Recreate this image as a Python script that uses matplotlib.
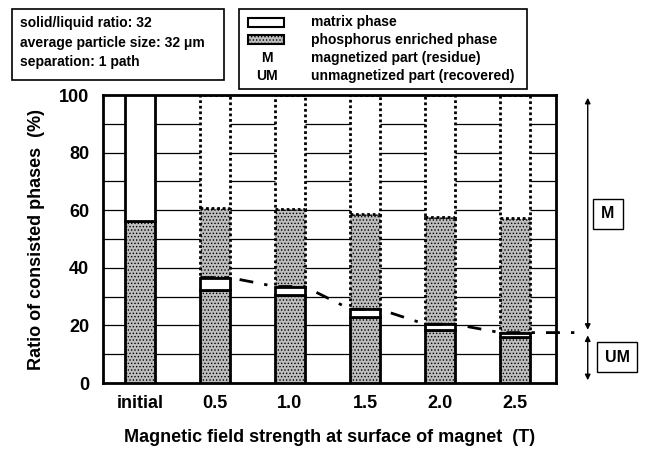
import matplotlib
matplotlib.use("Agg")
import matplotlib.pyplot as plt
from matplotlib.patches import Rectangle

plt.rcParams['font.family'] = ['Liberation Sans', 'DejaVu Sans']
plt.rcParams['font.weight'] = 'bold'
plt.rcParams['axes.labelweight'] = 'bold'
plt.rcParams['hatch.color'] = '#8a8a8a'
plt.rcParams['hatch.linewidth'] = 0.6

# data
labels = ["initial", "0.5", "1.0", "1.5", "2.0", "2.5"]
initial_phos = 56.4
um_phos = [32.3, 30.6, 23.0, 18.4, 15.9]      # phosphorus phase in UM part
um_total = [36.6, 33.5, 25.6, 20.4, 17.5]     # top of UM part (phos + matrix)
m_phos_top = [60.6, 60.4, 58.6, 57.8, 57.3]   # top of phosphorus phase in M part

gray = '#bdbdbd'
w = 0.39

fig = plt.figure(figsize=(6.47, 4.5), dpi=100)
ax = fig.add_axes([103/647, 1-383/450, 453/647, 288/450])
ax.set_xlim(-0.493, 5.547)
ax.set_ylim(0, 100)

for yv in range(10, 100, 10):
    ax.axhline(yv, color='black', lw=0.9, zorder=1)

# initial bar
ax.bar(0, initial_phos, w, color=gray, hatch='.....', edgecolor='black', lw=2, zorder=3)
ax.bar(0, 100 - initial_phos, w, bottom=initial_phos, color='white', edgecolor='black', lw=2, zorder=3)

xs = list(range(1, 6))
for i, x in enumerate(xs):
    # magnetized part (dotted outline)
    ax.bar(x, m_phos_top[i] - um_total[i], w, bottom=um_total[i], color=gray, hatch='.....',
           edgecolor='black', lw=2, ls=(0, (1, 1)), zorder=2)
    ax.bar(x, 100 - m_phos_top[i], w, bottom=m_phos_top[i], color='white',
           edgecolor='black', lw=2, ls=(0, (1, 1)), zorder=2)
    # unmagnetized part (solid outline)
    ax.bar(x, um_phos[i], w, color=gray, hatch='.....', edgecolor='black', lw=2, zorder=3)
    ax.bar(x, um_total[i] - um_phos[i], w, bottom=um_phos[i], color='white',
           edgecolor='black', lw=2, zorder=3)

# dash-dot line along tops of the UM parts
lx, ly = [], []
for i, x in enumerate(xs):
    lx += [x - w/2, x + w/2]
    ly += [um_total[i], um_total[i]]
lx.append(5.87)
ly.append(um_total[-1])
ax.plot(lx, ly, color='black', lw=2, ls=(0, (5, 4, 1.2, 4)), zorder=4, clip_on=False)

ax.set_xticks(range(6))
ax.set_xticklabels(labels)
ax.set_yticks(range(0, 101, 20))
ax.tick_params(length=0, labelsize=13)
ax.tick_params(axis='x', pad=9)
ax.tick_params(axis='y', pad=10)
for s in ax.spines.values():
    s.set_linewidth(2)
ax.set_ylabel("Ratio of consisted phases  (%)", fontsize=13, labelpad=10)
ax.set_xlabel("Magnetic field strength at surface of magnet  (T)", fontsize=13, labelpad=12)

# M / UM arrows on the right
ax_x = 5.97
ax.annotate('', xy=(ax_x, 100), xytext=(ax_x, um_total[-1]),
            arrowprops=dict(arrowstyle='<|-|>', color='black', lw=1, mutation_scale=8),
            annotation_clip=False)
ax.annotate('', xy=(ax_x, 0), xytext=(ax_x, um_total[-1]),
            arrowprops=dict(arrowstyle='<|-|>', color='black', lw=1, mutation_scale=8),
            annotation_clip=False)
fig.text(608/647, 1-214/450, "M", ha='center', va='center', fontsize=11.5,
         bbox=dict(boxstyle='square,pad=0.5', fc='white', ec='black', lw=1))
fig.text(617/647, 1-357/450, "UM", ha='center', va='center', fontsize=11.5,
         bbox=dict(boxstyle='square,pad=0.45', fc='white', ec='black', lw=1))

# condition box
fig.patches.append(Rectangle((12/647, 1-80/450), 212/647, 71/450, transform=fig.transFigure,
                             fc='white', ec='black', lw=1.2))
cond = ["solid/liquid ratio: 32", "average particle size: 32 \u03bcm", "separation: 1 path"]
for k, t in enumerate(cond):
    fig.text(20/647, 1-(23 + 19.5*k)/450, t, fontsize=10, va='center')

# legend box
fig.patches.append(Rectangle((239/647, 1-89/450), 288/647, 80/450, transform=fig.transFigure,
                             fc='white', ec='black', lw=1.2))
fig.patches.append(Rectangle((248/647, 1-27/450), 36/647, 9/450, transform=fig.transFigure,
                             fc='white', ec='black', lw=1.5))
fig.patches.append(Rectangle((248/647, 1-44/450), 36/647, 9/450, transform=fig.transFigure,
                             fc=gray, hatch='.....', ec='black', lw=1.5))
fig.text(267/647, 1-58/450, "M", fontsize=10, ha='center', va='center')
fig.text(267/647, 1-76/450, "UM", fontsize=10, ha='center', va='center')
leg = ["matrix phase", "phosphorus enriched phase", "magnetized part (residue)",
       "unmagnetized part (recovered)"]
for k, t in enumerate(leg):
    fig.text(311/647, 1-[22, 40, 58, 76][k]/450, t, fontsize=10, va='center')

fig.savefig("out.png", dpi=100)
